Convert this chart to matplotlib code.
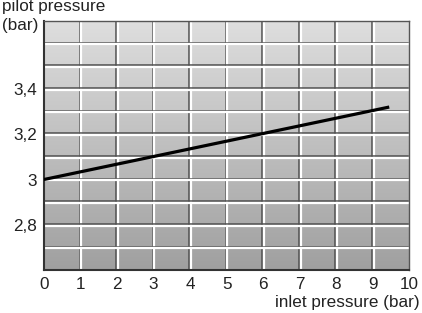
import numpy as np
import matplotlib
matplotlib.use('Agg')
import matplotlib.pyplot as plt
import matplotlib.transforms as mtransforms

plt.rcParams['font.family'] = ['Liberation Sans', 'DejaVu Sans']

# data
inlet = [0, 9.45]
pilot = [3.0, 3.32]
x_ticks = [0, 1, 2, 3, 4, 5, 6, 7, 8, 9, 10]
y_ticks = [2.8, 3.0, 3.2, 3.4]
y_labels = ['2,8', '3', '3,2', '3,4']

fig = plt.figure(figsize=(4.22, 3.13), dpi=100)
ax = fig.add_axes([0.104, 0.137, 0.866, 0.796])
ax.set_xlim(0, 10)
ax.set_ylim(2.6, 3.7)

# gray gradient background, light at top, darker at bottom
shade = np.linspace(222, 160, 256) / 255.0
grad = np.repeat(shade[:, None, None], 3, axis=2)
ax.imshow(grad, extent=[0, 10, 2.6, 3.7], aspect='auto', origin='upper', zorder=0)

# embossed grid: dark line plus white line next to it
dark = mtransforms.ScaledTranslation(-0.9 / 100, 0.9 / 100, fig.dpi_scale_trans)
light = mtransforms.ScaledTranslation(0.8 / 100, -0.8 / 100, fig.dpi_scale_trans)
for xv in range(1, 10):
    ax.plot([xv, xv], [0, 1], color='#505050', lw=1.1, transform=ax.get_xaxis_transform() + dark, zorder=1)
    ax.plot([xv, xv], [0, 1], color='white', lw=1.6, transform=ax.get_xaxis_transform() + light, zorder=1)
for yv in np.arange(2.7, 3.65, 0.1):
    ax.plot([0, 1], [yv, yv], color='#505050', lw=1.1, transform=ax.get_yaxis_transform() + dark, zorder=1)
    ax.plot([0, 1], [yv, yv], color='white', lw=1.6, transform=ax.get_yaxis_transform() + light, zorder=1)

ax.plot(inlet, pilot, color='black', lw=2.3, solid_capstyle='butt', zorder=3)

for side in ['top', 'right']:
    ax.spines[side].set_color('#555555')
    ax.spines[side].set_linewidth(1.0)
for side in ['left', 'bottom']:
    ax.spines[side].set_color('#333333')
    ax.spines[side].set_linewidth(1.5)

ax.set_xticks(x_ticks)
ax.set_xticklabels([str(v) for v in x_ticks])
ax.set_yticks(y_ticks)
ax.set_yticklabels(y_labels)
ax.tick_params(length=0, labelsize=12.3, colors='#222222', pad=5)

fig.text(0.995, 0.035, 'inlet pressure (bar)', ha='right', va='center', fontsize=12.3, color='#222222')
fig.text(0.004, 0.978, 'pilot pressure', ha='left', va='center', fontsize=12.3, color='#222222')
fig.text(0.004, 0.918, '(bar)', ha='left', va='center', fontsize=12.3, color='#222222')

fig.savefig('out.png', dpi=100)
